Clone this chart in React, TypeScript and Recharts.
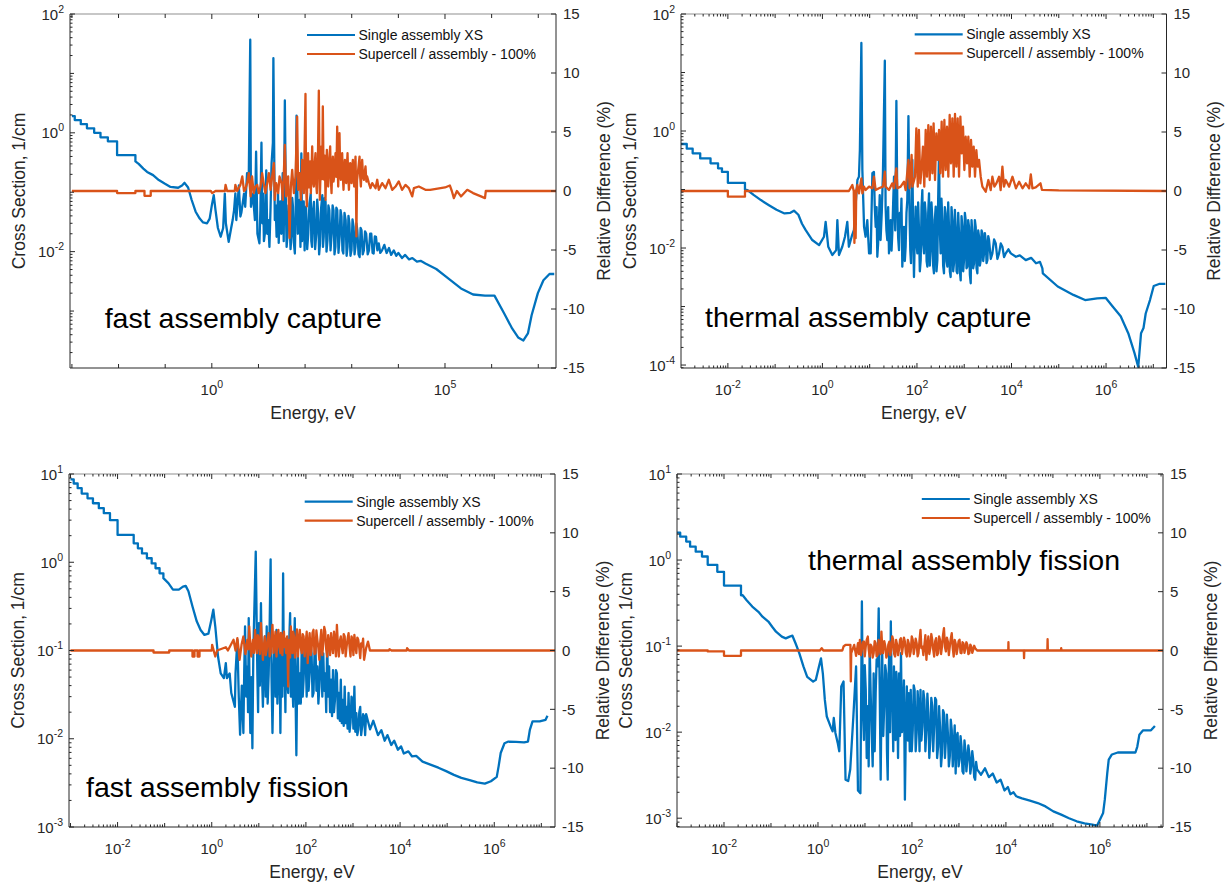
import { LineChart, Line, XAxis, YAxis, ReferenceLine } from 'recharts';

type Pt = [number, number]; // [energy eV, value]

// ---- fast assembly capture ----
const fastCaptureXS: Pt[] = [
  [1e-3, 1.91], [1.15e-3, 1.91], [1.15e-3, 1.64], [1.55e-3, 1.64], [1.55e-3, 1.4], [2.1e-3, 1.4], [2.1e-3, 1.19],
  [3e-3, 1.19], [3e-3, 1.0], [4.1e-3, 1.0], [4.1e-3, 0.84], [5.9e-3, 0.84], [5.9e-3, 0.72], [9.3e-3, 0.72],
  [9.3e-3, 0.42], [2.3e-2, 0.42], [2.3e-2, 0.33], [2.7e-2, 0.3], [3.4e-2, 0.25], [4.1e-2, 0.22], [5.5e-2, 0.194],
  [7.3e-2, 0.16], [9.7e-2, 0.14], [0.13, 0.123], [0.19, 0.119], [0.23, 0.13], [0.26, 0.144], [0.31, 0.12],
  [0.37, 0.074], [0.45, 0.047], [0.55, 0.036], [0.65, 0.031], [0.79, 0.03], [0.9, 0.036], [1.0, 0.06], [1.1, 0.089],
  [1.2, 0.05], [1.35, 0.025], [1.55, 0.0178], [1.75, 0.025], [1.9, 0.095], [2.0, 0.03], [2.3, 0.0146], [2.6, 0.025],
  [2.8, 0.034], [3.0, 0.05], [3.2, 0.096], [3.35, 0.034], [3.8, 0.13], [4.1, 0.039], [4.3, 0.045], [4.9, 0.095],
  [5.2, 0.057], [5.7, 0.21], [6.2, 0.18], [6.67, 37], [6.9, 0.057], [7.6, 0.095], [8.4, 0.034], [8.9, 0.48],
  [9.5, 0.02], [10.5, 0.0138], [11.0, 0.05], [11.6, 0.68], [12.1, 0.03], [12.6, 0.095], [13.1, 0.015], [13.7, 0.02],
  [14.2, 0.06], [14.7, 0.234], [15.4, 0.02], [16.2, 0.034], [17.2, 0.012], [18.2, 0.057], [19.1, 0.305],
  [20.4, 0.68], [20.9, 18], [22.4, 0.034], [23.4, 0.06], [24.5, 0.0178], [25.4, 0.04], [26.3, 0.095], [27.2, 0.014],
  [28.2, 0.034], [29.5, 0.07], [30.9, 0.02], [32, 0.045], [33.1, 0.21], [34.8, 0.015], [36.8, 3.5], [38.9, 0.044],
  [40.2, 0.012], [41.7, 0.0178], [44, 0.06], [46.4, 0.034], [48.8, 0.011], [51.3, 0.02], [53, 0.08], [55, 0.057],
  [57.5, 0.014], [60.3, 0.0093], [63, 0.05], [65.5, 1.94], [70, 0.02], [73, 0.05], [75.9, 0.074], [79.5, 0.012],
  [83.2, 0.45], [86, 0.015], [89.1, 0.026], [93.5, 0.07], [97.7, 0.0105], [101, 0.04], [105, 0.057], [111, 0.011],
  [117, 0.02], [124, 0.065], [132, 0.095], [136, 0.015], [141, 0.012], [148, 0.05], [155, 0.069], [164, 0.011],
  [174, 0.02], [182, 0.075], [191, 0.044], [200, 0.009], [209, 0.0138], [221, 0.055], [234, 0.089], [242, 0.012],
  [251, 0.0178], [263, 0.08], [275, 0.069], [288, 0.01], [302, 0.0155], [316, 0.06], [331, 0.05], [351, 0.0105],
  [372, 0.02], [389, 0.06], [407, 0.05], [427, 0.009], [447, 0.012], [468, 0.055], [490, 0.05], [520, 0.0095],
  [550, 0.0178], [576, 0.05], [603, 0.039], [632, 0.0105], [661, 0.0093], [700, 0.045], [741, 0.034], [777, 0.0085],
  [813, 0.012], [852, 0.04], [891, 0.03], [940, 0.0085], [989, 0.0105], [1040, 0.035], [1096, 0.026], [1150, 0.009],
  [1202, 0.012], [1260, 0.03], [1318, 0.023], [1400, 0.009], [1479, 0.0081], [1550, 0.025], [1622, 0.023],
  [1720, 0.009], [1820, 0.0105], [1930, 0.022], [2042, 0.02], [2200, 0.009], [2344, 0.0105], [2480, 0.02],
  [2630, 0.02], [2800, 0.0095], [2951, 0.0093], [3130, 0.018], [3311, 0.0178], [3550, 0.0105], [3802, 0.0138],
  [4100, 0.0095], [4467, 0.0105], [5000, 0.013], [5600, 0.0095], [6300, 0.0115], [7000, 0.0088], [8000, 0.0105],
  [9000, 0.0085], [1e4, 0.0095], [1.2e4, 0.0078], [1.4e4, 0.0088], [1.7e4, 0.0074], [2e4, 0.0078], [2.5e4, 0.0068],
  [3e4, 0.007], [3.8e4, 0.0063], [6.5e4, 0.0051], [1.05e5, 0.0038], [2.2e5, 0.0024], [4e5, 0.0019], [7.2e5, 0.00182],
  [1.15e6, 0.00182], [1.86e6, 0.00091], [2.75e6, 0.00051], [3.7e6, 0.00036], [4.8e6, 0.00032], [6e6, 0.00042],
  [7.2e6, 0.00085], [9.8e6, 0.002], [1.29e7, 0.0033], [1.74e7, 0.0042], [2.2e7, 0.0042],
];
const fastCaptureDiff: Pt[] = [
  [1e-3, 0], [9.3e-3, 0], [9.3e-3, -0.18], [2.3e-2, -0.18], [2.3e-2, 0], [3.6e-2, 0], [3.6e-2, -0.41], [4.9e-2, -0.41],
  [4.9e-2, 0], [0.95, 0], [1.02, -0.18], [1.2, 0], [1.9, 0], [1.97, 0.52], [2.13, 0], [3.1, 0], [3.2, 0.52], [3.5, 0],
  [4.1, 0.52], [4.5, 1.23], [4.9, 0], [5.2, 0.1], [5.7, 0.67], [6.2, 1.51], [6.8, -0.46], [7.3, 1.23], [7.9, -0.18],
  [8.6, 0.38], [9.4, 0.52], [10.2, -0.18], [11.1, 0.38], [12, 1.51], [13.1, 0.52], [14.1, -0.18], [15.4, 0.67],
  [16.7, 1.51], [18.2, 0.1], [19.7, 1.23], [21.4, 2.36], [22.4, -0.75], [24, 0.67], [26.5, -0.18], [28.3, 1.23],
  [31.3, 0.67], [33.4, -0.75], [36.8, 3.91], [39.3, -0.46], [43.4, 1.23], [46.4, -3.99], [49.5, 0.38], [52.9, 1.79],
  [57.5, -0.18], [62.3, 1.23], [67.6, 6.31], [71.1, 0.1], [75.9, 1.51], [81.3, -0.75], [86.5, 2.64], [94, -0.18],
  [102, 8.23], [105, 0.5], [109, -1.31], [112, 1.5], [116, 3.2], [120, 0.3], [124, 1.23], [128, 2.5], [133, -0.18],
  [137, 1.5], [142, 3.77], [148, 0.8], [154, 0.38], [160, 2.2], [167, 3.2], [173, 0.6], [179, -0.18], [188, 2.5],
  [197, 8.51], [207, -0.75], [216, 2.0], [225, 3.77], [232, 1.0], [240, 7.16], [248, 2.0], [257, 0.95], [265, 3.0],
  [274, -0.75], [283, 1.5], [293, 3.49], [303, 1.8], [313, 0.38], [329, 2.5], [345, 3.77], [357, 1.0], [369, -0.18],
  [381, 1.8], [394, 2.92], [407, 0.8], [421, 1.23], [435, 2.0], [449, 3.2], [468, 1.2], [488, 5.46], [500, 2.0],
  [513, 0.38], [530, 2.5], [547, 4.9], [566, 1.5], [585, 0.95], [604, 2.2], [624, 3.2], [645, 1.2], [667, 0.1],
  [690, 1.8], [713, 2.64], [736, 0.9], [760, 0.67], [786, 2.0], [813, 3.2], [842, 1.2], [871, 0.1], [899, 1.5],
  [927, 2.36], [958, 1.1], [989, 0.67], [1022, 2.0], [1057, 2.64], [1092, 1.2], [1128, 0.38], [1165, 1.8],
  [1205, 2.92], [1230, 1.0], [1260, -3.85], [1300, 0.9], [1350, 1.51], [1410, 2.2], [1470, 2.92], [1520, 1.2],
  [1570, 0.38], [1620, 1.6], [1675, 2.64], [1750, 1.2], [1820, 0.95], [1900, 1.6], [1975, 2.08], [2060, 0.8],
  [2140, 1.23], [2330, 0.67], [2520, 0.24], [2750, 0.67], [3240, 0.24], [3520, 0.95], [3810, 0.1], [4500, 0.67],
  [5300, 0.24], [6250, 0.95], [7380, 0.1], [8700, 0.38], [1.02e4, 0.81], [1.2e4, 0.1], [1.42e4, 0.52], [1.68e4, 0.24],
  [1.98e4, -0.46], [2.15e4, 0.24], [2.75e4, 0.38], [3.8e4, 0.1], [4.8e4, 0.1], [1e5, 0.3], [1.27e5, 0.47], [1.4e5, 0],
  [1.55e5, -0.6], [1.8e5, 0], [2.2e5, -0.46], [3e5, 0.1], [4e5, -0.18], [5.9e5, -0.46], [7.2e5, -0.6], [7.5e5, 0],
  [2.4e7, 0],
];

// ---- thermal assembly capture ----
const thermalCaptureXS: Pt[] = [
  [1e-3, 0.6], [1.35e-3, 0.6], [1.35e-3, 0.5], [1.8e-3, 0.5], [1.8e-3, 0.415], [2.6e-3, 0.415], [2.6e-3, 0.34],
  [4.3e-3, 0.34], [4.3e-3, 0.28], [6.2e-3, 0.28], [6.2e-3, 0.23], [7.5e-3, 0.23], [7.5e-3, 0.2], [1e-2, 0.2],
  [1e-2, 0.13], [2.3e-2, 0.13], [2.3e-2, 0.1], [2.6e-2, 0.098], [3.5e-2, 0.081], [5e-2, 0.066], [7.4e-2, 0.054],
  [0.107, 0.045], [0.158, 0.039], [0.21, 0.04], [0.25, 0.0435], [0.31, 0.037], [0.37, 0.026], [0.44, 0.0204],
  [0.61, 0.0137], [0.85, 0.0112], [1.08, 0.0156], [1.17, 0.028], [1.33, 0.0105], [1.62, 0.0076], [1.96, 0.0092],
  [2.07, 0.03], [2.24, 0.0076], [2.63, 0.0105], [3.0, 0.0156], [3.36, 0.028], [3.63, 0.0105], [4.15, 0.0156],
  [4.65, 0.0204], [5.0, 0.051], [5.5, 0.145], [5.93, 0.166], [6.2, 0.47], [6.67, 32], [7.0, 0.215], [7.6, 0.023],
  [8.2, 0.0156], [8.9, 0.03], [9.7, 0.0081], [10.5, 0.0081], [11.4, 0.19], [12.3, 0.2], [12.8, 0.05], [13.4, 0.023],
  [14.0, 0.05], [14.5, 0.0071], [15.1, 0.012], [15.7, 0.03], [16.3, 0.08], [17.0, 0.0137], [18.0, 0.04], [19.1, 0.2],
  [20.9, 15.9], [21.7, 0.051], [22.6, 0.02], [23.6, 0.0137], [24.6, 0.05], [25.6, 0.0081], [26.7, 0.015],
  [27.8, 0.03], [29, 0.009], [30.1, 0.0178], [31.4, 0.06], [32.7, 0.166], [34.7, 0.02], [36.7, 3.26], [38.5, 0.051],
  [40, 0.015], [41.7, 0.0092], [43.4, 0.04], [45.2, 0.023], [47, 0.07], [49, 0.0048], [51, 0.012], [53.2, 0.023],
  [55.4, 0.006], [57.6, 0.0105], [60, 0.04], [62.5, 0.066], [66, 1.8], [70, 0.03], [72.3, 0.009], [74.8, 0.0055],
  [77.4, 0.04], [80, 0.32], [83, 0.02], [86.5, 0.0032], [90, 0.015], [93.8, 0.051], [98, 0.012], [102, 0.0081],
  [106, 0.06], [110, 0.023], [115, 0.004], [120, 0.0062], [125, 0.05], [130, 0.098], [135, 0.012], [141, 0.0081],
  [147, 0.06], [153, 0.039], [160, 0.006], [166, 0.0048], [173, 0.04], [180, 0.086], [187, 0.005], [195, 0.0092],
  [203, 0.06], [212, 0.03], [220, 0.005], [229, 0.0037], [239, 0.03], [249, 0.051], [259, 0.004], [270, 0.0062],
  [281, 0.07], [293, 0.415], [305, 0.02], [317, 0.0081], [330, 0.07], [344, 0.03], [358, 0.005], [373, 0.0037],
  [389, 0.05], [405, 0.039], [422, 0.006], [440, 0.0048], [458, 0.06], [476, 0.023], [496, 0.004], [516, 0.0032],
  [538, 0.05], [561, 0.03], [584, 0.004], [608, 0.0055], [634, 0.045], [660, 0.023], [688, 0.004], [716, 0.0037],
  [746, 0.04], [777, 0.0178], [809, 0.004], [842, 0.0028], [877, 0.035], [913, 0.023], [950, 0.004], [990, 0.0062],
  [1031, 0.04], [1074, 0.03], [1118, 0.0045], [1165, 0.0048], [1213, 0.03], [1263, 0.023], [1316, 0.0035],
  [1371, 0.0025], [1428, 0.03], [1486, 0.0178], [1548, 0.0045], [1612, 0.0055], [1680, 0.03], [1749, 0.023],
  [1822, 0.0045], [1897, 0.0037], [1975, 0.02], [2057, 0.0156], [2143, 0.005], [2232, 0.0062], [2325, 0.02],
  [2420, 0.0178], [2520, 0.006], [2625, 0.0081], [2735, 0.018], [2848, 0.0137], [2966, 0.0055], [3089, 0.0062],
  [3220, 0.016], [3350, 0.0137], [3640, 0.0065], [3940, 0.0081], [4280, 0.014], [4640, 0.012], [5030, 0.0065],
  [5460, 0.0081], [5930, 0.012], [6420, 0.0105], [6960, 0.007], [7550, 0.0081], [8600, 0.0095], [9660, 0.0081],
  [1.24e4, 0.0071], [1.5e4, 0.0075], [2e4, 0.0062], [2.6e4, 0.0068], [3.3e4, 0.0055], [4e4, 0.0058],
  [4.5e4, 0.0045], [4.6e4, 0.0037], [9.5e4, 0.0022], [2.04e5, 0.00158], [3.6e5, 0.00129], [6.5e5, 0.00138],
  [9.8e5, 0.00141], [1.38e6, 0.001], [2.04e6, 0.00068], [2.95e6, 0.00035], [4e6, 0.00016], [4.8e6, 9.3e-5],
  [5.5e6, 0.00035], [6.2e6, 0.00043], [6.9e6, 0.00076], [8.5e6, 0.00129], [1.02e7, 0.00224], [1.32e7, 0.00243],
  [1.8e7, 0.00243],
];
const thermalCaptureDiff: Pt[] = [
  [1e-3, 0], [1e-2, 0], [1e-2, -0.48], [2.3e-2, -0.48], [2.3e-2, 0], [3.63, 0], [4.29, 0.51], [4.6, 0], [4.75, -4.4],
  [4.9, 0], [5.05, -4.0], [5.2, 0], [5.5, 0.51], [5.93, -0.2], [6.67, 1.07], [7.0, -0.2], [7.6, 0.37], [8.2, 0.08],
  [9.7, 0.37], [11.4, 0.23], [12.3, 1.21], [13.4, 0.08], [15.7, 0.23], [19.1, 0.37], [20.9, 1.64], [21.7, 0.37],
  [25.6, 0.08], [30.1, 0.65], [32.7, 0.23], [36.7, 1.92], [38.5, 0.23], [45.2, 0.37], [53.2, 0.79], [57.6, 0.08],
  [66, 2.63], [70, 0.23], [77, 3.05], [80, 0.37], [90.8, 1.21], [97, 5.31], [104, 0.37], [110, 5.17], [118, 0.65],
  [126, 2.06], [134, 3.76], [143, 0.37], [153, 5.17], [163, 1.21], [174, 5.59], [186, 0.93], [198, 5.45], [212, 1.5],
  [225, 5.73], [241, 0.93], [257, 4.89], [275, 2.63], [293, 5.17], [312, 1.5], [333, 5.88], [355, 1.21], [380, 6.02],
  [405, 1.78], [432, 5.45], [461, 1.21], [492, 6.44], [525, 2.34], [561, 6.16], [598, 1.21], [638, 6.53], [681, 2.06],
  [727, 6.16], [777, 1.21], [828, 6.3], [884, 3.19], [943, 5.45], [1006, 1.78], [1074, 4.6], [1145, 2.34],
  [1222, 4.6], [1304, 1.21], [1392, 4.32], [1486, 2.06], [1585, 3.76], [1690, 1.21], [1805, 3.47], [1925, 2.06],
  [2057, 2.63], [2232, 1.21], [2420, 0.37], [2848, -0.06], [3240, 0.93], [3630, 0.08], [3940, 1.21], [4340, 0.37],
  [4790, 0.65], [5460, 1.21], [5890, 0.08], [6420, 2.06], [6930, 0.37], [7550, 0.93], [8910, 0.37], [1.05e4, 1.21],
  [1.24e4, 0.23], [1.45e4, 0.79], [1.71e4, 0.23], [2e4, 0.65], [2.36e4, 0.23], [2.56e4, 1.4], [2.77e4, 0.23],
  [3.25e4, 0.3], [4.1e4, 0.65], [4.4e4, 0.1], [1e5, 0.05], [1.9e7, 0],
];

// ---- fast assembly fission ----
const fastFissionXS: Pt[] = [
  [1e-3, 8.7], [1.17e-3, 8.7], [1.17e-3, 7.8], [1.42e-3, 7.8], [1.42e-3, 6.9], [1.73e-3, 6.9], [1.73e-3, 6.0],
  [2.3e-3, 6.0], [2.3e-3, 5.3], [3e-3, 5.3], [3e-3, 4.66], [4e-3, 4.66], [4e-3, 4.1], [5.1e-3, 4.1], [5.1e-3, 3.6],
  [6.9e-3, 3.6], [6.9e-3, 3.0], [1e-2, 3.0], [1e-2, 2.04], [2.2e-2, 2.04], [2.2e-2, 1.64], [2.7e-2, 1.64],
  [2.7e-2, 1.44], [3.3e-2, 1.44], [3.3e-2, 1.26], [4.2e-2, 1.26], [4.2e-2, 1.11], [5.3e-2, 1.11], [5.3e-2, 0.97],
  [6.4e-2, 0.97], [6.4e-2, 0.855], [7.8e-2, 0.855], [7.8e-2, 0.75], [9.4e-2, 0.75], [9.4e-2, 0.66], [0.12, 0.58],
  [0.15, 0.49], [0.2, 0.49], [0.245, 0.53], [0.28, 0.54], [0.32, 0.47], [0.39, 0.315], [0.48, 0.214], [0.58, 0.171],
  [0.7, 0.15], [0.85, 0.155], [0.98, 0.222], [1.08, 0.29], [1.19, 0.187], [1.36, 0.0855], [1.55, 0.055],
  [1.81, 0.0486], [1.99, 0.072], [2.1, 0.0486], [2.4, 0.055], [2.6, 0.033], [3.1, 0.023], [3.2, 0.055], [3.5, 0.132],
  [3.75, 0.03], [4.0, 0.0111], [4.35, 0.04], [4.7, 0.0116], [4.9, 0.06], [5.1, 0.187], [5.4, 0.03], [5.7, 0.066],
  [5.9, 0.02], [6.1, 0.232], [6.35, 0.04], [6.6, 0.0116], [6.95, 0.05], [7.3, 0.0078], [7.65, 0.1], [8.0, 0.265],
  [8.6, 1.32], [9.3, 0.055], [9.65, 0.02], [10, 0.204], [10.5, 0.04], [11.1, 0.343], [11.6, 0.06], [12.2, 0.023],
  [12.8, 0.07], [13.4, 0.144], [14.0, 0.03], [14.7, 0.187], [15.4, 0.025], [16.2, 0.055], [17.0, 0.2], [17.8, 1.08],
  [18.6, 0.05], [19.5, 0.0116], [20.5, 0.06], [21.6, 0.132], [22.6, 0.03], [23.7, 0.171], [24.8, 0.025], [26, 0.06],
  [27.3, 0.15], [28.7, 0.0116], [29.5, 0.05], [30.4, 0.111], [31.6, 0.03], [32.8, 0.75], [34.1, 0.04], [35.5, 0.055],
  [36.7, 0.02], [38, 0.132], [40, 0.05], [42, 0.033], [44, 0.12], [46.2, 0.265], [48, 0.03], [49.9, 0.111],
  [51.8, 0.04], [53.7, 0.023], [55.8, 0.1], [58, 0.232], [60.3, 0.03], [62.7, 0.0065], [65, 0.04], [67.6, 0.093],
  [70.8, 0.025], [74.2, 0.055], [78, 0.025], [81.8, 0.132], [85.5, 0.03], [89.3, 0.0466], [94, 0.11], [99, 0.078],
  [104, 0.03], [109, 0.132], [114, 0.035], [120, 0.055], [126, 0.11], [132, 0.093], [138, 0.03], [145, 0.033],
  [152, 0.09], [160, 0.111], [167, 0.035], [175, 0.066], [184, 0.025], [193, 0.039], [202, 0.1], [212, 0.078],
  [223, 0.03], [234, 0.093], [245, 0.035], [257, 0.055], [270, 0.02], [283, 0.132], [297, 0.03], [311, 0.066],
  [326, 0.02], [342, 0.0466], [359, 0.018], [376, 0.06], [395, 0.02], [414, 0.0276], [434, 0.06], [455, 0.055],
  [477, 0.017], [500, 0.033], [525, 0.016], [551, 0.0466], [578, 0.015], [605, 0.0276], [635, 0.014], [666, 0.039],
  [698, 0.015], [732, 0.023], [768, 0.013], [805, 0.033], [845, 0.012], [885, 0.0151], [930, 0.03], [973, 0.0276],
  [1020, 0.013], [1070, 0.039], [1120, 0.012], [1177, 0.0195], [1235, 0.011], [1294, 0.0126], [1360, 0.02],
  [1423, 0.023], [1490, 0.011], [1565, 0.0138], [1640, 0.019], [1721, 0.0178], [1810, 0.011], [1900, 0.019],
  [2300, 0.0128], [2700, 0.016], [3400, 0.011], [4000, 0.0125], [4700, 0.0095], [5400, 0.011], [6500, 0.0085],
  [7500, 0.0095], [9000, 0.0075], [1.05e4, 0.0082], [1.2e4, 0.0068], [1.5e4, 0.0072], [1.8e4, 0.0063],
  [2.2e4, 0.0064], [3e4, 0.0055], [4.4e4, 0.0051], [6.5e4, 0.0047], [9.5e4, 0.0043], [1.39e5, 0.0039],
  [2e5, 0.0036], [3e5, 0.0034], [4.35e5, 0.0032], [6.3e5, 0.0031], [8.5e5, 0.0033], [1.13e6, 0.0037],
  [1.24e6, 0.0049], [1.37e6, 0.0069], [1.65e6, 0.0089], [2e6, 0.0093], [2.9e6, 0.0092], [4.3e6, 0.0091],
  [5.2e6, 0.0093], [5.7e6, 0.0126], [6.5e6, 0.0157], [9.2e6, 0.0157], [1.23e7, 0.0164], [1.35e7, 0.0182],
];
const fastFissionDiff: Pt[] = [
  [1e-3, 0], [5.8e-2, 0], [5.8e-2, -0.17], [0.125, -0.17], [0.125, 0], [0.39, 0], [0.39, -0.51], [0.43, -0.51],
  [0.43, 0], [0.5, 0], [0.5, -0.51], [0.55, -0.51], [0.55, 0], [1.0, 0], [1.02, 0.48], [1.19, -0.51], [1.3, 0],
  [1.99, 0.28], [2.2, 0], [2.9, 0.91], [3.2, 0], [3.5, 1.05], [3.7, 0.2], [3.9, -0.79], [4.3, 0.5], [4.7, 1.19],
  [5.2, -0.3], [5.7, 0.91], [6.0, 0.1], [6.25, 2.04], [6.6, 0.4], [6.9, -0.51], [7.2, 0.3], [7.5, 0.91], [7.9, -0.2],
  [8.3, 1.76], [8.7, 0.5], [9.1, -0.23], [9.5, 1.3], [10, 0.91], [10.5, -0.3], [11.1, 2.32], [11.6, 0.6],
  [12.2, -0.79], [12.8, 0.4], [13.4, 1.19], [14.0, -0.4], [14.7, 0.06], [15.4, 1.0], [16.2, 1.47], [17.0, -0.5],
  [17.8, -0.23], [18.6, 1.2], [19.5, 2.18], [20.5, -0.2], [21.6, 0.62], [22.6, 1.6], [23.7, -0.51], [24.8, 0.8],
  [26, 1.76], [27.3, 0.3], [28.7, -0.23], [29.5, 1.5], [30.4, 1.19], [31.6, -0.4], [32.8, 0.91], [34.1, 1.6],
  [35.5, 0.28], [36.7, 1.0], [38, -0.23], [40, 1.2], [42, -3.06], [43.2, 0.3], [44.5, 0.91], [46.2, -0.6],
  [47.9, 2.04], [49.8, 0.5], [51.8, -0.23], [53.8, 1.6], [55.9, 1.19], [58.6, -0.6], [61.5, 0.62], [64.5, 1.8],
  [67.6, -0.51], [70.8, 0.8], [74.2, 1.76], [78, 0.2], [81.8, -0.23], [85.5, 1.4], [89.3, 1.19], [94, -0.5],
  [99, 0.62], [104, 1.6], [109, -1.08], [114, 0.5], [120, 1.47], [126, -0.4], [132, 0.06], [138, 1.5], [145, 1.76],
  [152, -0.3], [160, -0.23], [167, 1.7], [175, 0.91], [184, 0.2], [193, -0.79], [202, 0.8], [212, 1.76],
  [223, -0.4], [234, 0.62], [245, 2.0], [257, 1.61], [270, 0.1], [283, -0.51], [297, 1.3], [311, 0.62], [326, -0.4],
  [342, 1.47], [359, 0.5], [376, -0.23], [395, 1.6], [414, 0.91], [434, -0.5], [455, 2.18], [477, 0.6], [500, -0.51],
  [525, 0.8], [551, 1.19], [578, 0.3], [605, -0.23], [635, 1.4], [666, 1.19], [698, -0.5], [732, 0.34], [768, 1.0],
  [805, 1.47], [845, 0.3], [885, -0.51], [930, 1.2], [973, 0.91], [1020, -0.4], [1070, 1.33], [1120, 0.5],
  [1177, -0.23], [1235, 1.1], [1294, 0.91], [1360, 0.2], [1423, -0.65], [1490, 0.6], [1565, 0.34], [1640, 1.0],
  [1721, -0.79], [1900, 0.2], [2081, 0.76], [2290, 0], [5800, 0], [5960, 0.11], [6566, 0], [1.38e4, 0],
  [1.41e4, 0.2], [1.55e4, 0], [1.95e7, 0],
];

// ---- thermal assembly fission ----
const thermalFissionXS: Pt[] = [
  [1e-3, 2.08], [1.17e-3, 2.08], [1.17e-3, 1.87], [1.57e-3, 1.87], [1.57e-3, 1.64], [1.9e-3, 1.64], [1.9e-3, 1.43],
  [2.5e-3, 1.43], [2.5e-3, 1.25], [3.4e-3, 1.25], [3.4e-3, 1.1], [4.5e-3, 1.1], [4.5e-3, 0.88], [7.2e-3, 0.88],
  [7.2e-3, 0.73], [1e-2, 0.73], [1e-2, 0.505], [2.3e-2, 0.505], [2.3e-2, 0.39], [2.5e-2, 0.39], [3e-2, 0.344],
  [4e-2, 0.288], [5.4e-2, 0.25], [6.6e-2, 0.22], [8.8e-2, 0.193], [0.106, 0.168], [0.128, 0.147], [0.17, 0.129],
  [0.206, 0.123], [0.25, 0.129], [0.286, 0.132], [0.333, 0.108], [0.4, 0.083], [0.49, 0.058], [0.59, 0.044],
  [0.79, 0.0387], [0.9, 0.0405], [1.05, 0.058], [1.16, 0.072], [1.27, 0.048], [1.4, 0.0237], [1.54, 0.0152],
  [1.86, 0.0116], [2.05, 0.0102], [2.17, 0.0146], [2.35, 0.0098], [2.63, 0.0075], [2.84, 0.006], [3.13, 0.034],
  [3.5, 0.0387], [3.86, 0.0028], [4.4, 0.0027], [4.86, 0.0037], [5.66, 0.0152], [6.47, 0.058], [7.1, 0.0021],
  [8.0, 0.00195], [8.6, 0.33], [9.0, 0.02], [9.5, 0.0081], [9.9, 0.06], [10.4, 0.031], [10.9, 0.005], [11.5, 0.02],
  [12.0, 0.004], [12.6, 0.099], [13.2, 0.03], [13.9, 0.0098], [14.6, 0.004], [15.3, 0.048], [16.1, 0.006],
  [16.9, 0.0284], [17.7, 0.07], [18.6, 0.058], [19.6, 0.275], [20.6, 0.03], [21.6, 0.0028], [22.4, 0.02],
  [23.3, 0.083], [24.5, 0.009], [25.7, 0.02], [27, 0.06], [28.3, 0.048], [29.4, 0.006], [30.5, 0.0028], [31.8, 0.04],
  [33, 0.099], [34.2, 0.01], [35.5, 0.193], [37, 0.03], [38.4, 0.02], [40, 0.006], [41.4, 0.058], [43, 0.012],
  [44.7, 0.0081], [46.5, 0.05], [48.3, 0.0284], [50.6, 0.005], [53, 0.048], [55.7, 0.009], [58.4, 0.083],
  [61.3, 0.01], [64.3, 0.0166], [67.5, 0.04], [70.8, 0.00164], [74.2, 0.012], [77.8, 0.034], [81.6, 0.008],
  [85.6, 0.0284], [89.8, 0.006], [94.2, 0.031], [99, 0.006], [104, 0.0106], [109, 0.035], [114, 0.031], [120, 0.006],
  [126, 0.0098], [132, 0.03], [138, 0.02], [145, 0.006], [152, 0.031], [159, 0.008], [167, 0.0118], [175, 0.03],
  [184, 0.0237], [193, 0.006], [203, 0.0106], [213, 0.028], [223, 0.0166], [234, 0.005], [246, 0.0081], [258, 0.025],
  [270, 0.02], [283, 0.006], [297, 0.0116], [312, 0.025], [327, 0.0237], [343, 0.005], [360, 0.0068], [378, 0.02],
  [396, 0.0116], [416, 0.004], [436, 0.0057], [458, 0.018], [480, 0.0166], [504, 0.005], [528, 0.0081], [554, 0.016],
  [581, 0.0098], [610, 0.004], [639, 0.0052], [670, 0.014], [703, 0.0106], [738, 0.004], [774, 0.0068], [812, 0.012],
  [851, 0.0033], [893, 0.009], [937, 0.0098], [983, 0.004], [1031, 0.0048], [1082, 0.009], [1134, 0.0068],
  [1190, 0.0035], [1248, 0.0033], [1310, 0.008], [1373, 0.0062], [1440, 0.0035], [1511, 0.0048], [1585, 0.007],
  [1662, 0.0057], [1745, 0.0033], [1829, 0.004], [1920, 0.006], [2013, 0.0048], [2110, 0.003], [2215, 0.0028],
  [2320, 0.0045], [2437, 0.0037], [2950, 0.0032], [3580, 0.0038], [4330, 0.003], [5240, 0.0033], [6350, 0.0026],
  [7690, 0.0028], [9300, 0.0021], [1.1e4, 0.0023], [1.24e4, 0.0019], [1.45e4, 0.002], [1.65e4, 0.0018],
  [2.2e4, 0.0017], [3.24e4, 0.0016], [4.75e4, 0.0015], [6.95e4, 0.00137], [1.02e5, 0.0012], [1.5e5, 0.0011],
  [2.2e5, 0.001], [3.2e5, 0.00092], [4.7e5, 0.00087], [6.9e5, 0.00084], [8.7e5, 0.00082], [1e6, 0.00096],
  [1.17e6, 0.00115], [1.27e6, 0.00164], [1.43e6, 0.0033], [1.54e6, 0.0048], [1.8e6, 0.0055], [2.4e6, 0.0058],
  [3.9e6, 0.0058], [5.7e6, 0.0058], [6.25e6, 0.0068], [6.9e6, 0.0093], [8.3e6, 0.0105], [1.22e7, 0.0105],
  [1.48e7, 0.0118],
];
const thermalFissionDiff: Pt[] = [
  [1e-3, 0], [4.5e-3, 0], [4.5e-3, -0.08], [1e-2, -0.08], [1e-2, -0.45], [2.3e-2, -0.45], [2.3e-2, 0], [1.1, 0],
  [1.2, 0.2], [1.3, 0], [3.3, 0], [3.5, 0.34], [3.86, 0.48], [4.9, 0.48], [5.0, -2.63], [5.1, -0.23], [5.9, 0.48],
  [6.47, -0.45], [7.1, 0.62], [7.45, -0.3], [7.8, 0.91], [8.2, -0.4], [8.6, 0.06], [9.0, 0.7], [9.5, 0.76],
  [9.9, -0.5], [10.4, 0.34], [10.9, 0.9], [11.5, 1.19], [12.0, 0.1], [12.6, -0.51], [13.2, 0.5], [13.9, 0.34],
  [14.6, -0.6], [15.3, -0.23], [16.1, 0.8], [16.9, 0.62], [17.7, -0.5], [18.6, -0.37], [19.5, 0.9], [20.4, 0.2],
  [21.4, -0.3], [22.4, 1.61], [23.3, 0.3], [24.2, -0.23], [25.7, 0.8], [27.2, 0.34], [28.5, -0.6], [29.9, -0.37],
  [31.4, 0.5], [33, 0.76], [34.6, -0.4], [36.3, 0.06], [38.1, 1.2], [39.9, 0.91], [41.9, -0.3], [43.9, -0.51],
  [46, 0.9], [48.3, 0.48], [50.6, -0.4], [53, 0.06], [55.7, 0.9], [58.4, 1.05], [61.3, -0.3], [64.3, 0.34],
  [67.5, 1.1], [70.8, 0.76], [74.2, -0.2], [77.8, -0.51], [81.6, 0.9], [85.6, 0.62], [89.8, -0.5], [94.2, -0.08],
  [99, 1.2], [104, 0.91], [109, -0.3], [114, 0.2], [120, 1.0], [126, 0.62], [132, -0.5], [138, -0.23], [145, 0.9],
  [152, 1.76], [159, 0.2], [167, 0.34], [175, -0.4], [184, 0.48], [193, 1.3], [203, -0.79], [213, 0.4], [223, 1.19],
  [234, -0.3], [246, 0.2], [258, 1.4], [270, 0.91], [283, 0.1], [297, -0.51], [312, 0.8], [327, 1.05], [343, -0.4],
  [360, -0.23], [378, 1.2], [396, 0.91], [416, -0.3], [436, 0.34], [458, 1.3], [480, 1.9], [504, 0.3], [528, -0.08],
  [554, 1.1], [581, 0.76], [610, -0.4], [639, 0.34], [670, 1.0], [703, 1.47], [738, 0.2], [774, -0.51], [812, 0.9],
  [851, 0.62], [893, -0.3], [937, 0.2], [983, 0.8], [1031, 0.91], [1082, -0.2], [1134, -0.23], [1190, 0.7],
  [1248, 0.62], [1310, -0.2], [1373, 0.2], [1440, 0.7], [1511, 0.48], [1585, -0.3], [1662, -0.23], [1745, 0.5],
  [1829, 0.34], [1920, -0.2], [2013, 0.06], [2110, 0.4], [2215, 0.2], [2437, 0], [1.12e4, 0], [1.13e4, 0.7],
  [1.14e4, 0], [2.4e4, 0], [2.43e4, -0.65], [2.46e4, 0], [7.6e4, 0], [7.7e4, 0.96], [7.8e4, 0], [1.48e5, 0],
  [1.5e5, 0.2], [1.52e5, 0], [2.2e7, 0],
];

const diffTicks = [-15, -10, -5, 0, 5, 10, 15];
const seriesNames = ['Single assembly XS', 'Supercell / assembly - 100%'];

const BLUE = '#0072BD';
const ORANGE = '#D95319';
const INK = '#262626';
const FONT = '"Liberation Sans", Arial, Helvetica, sans-serif';

// room around each plot box inside its own chart
const L = 72;
const R = 64;
const T = 22;
const B = 62;

type Panel = {
  id: string;
  note: string;
  noteAt: [number, number];
  legendAt: [number, number];
  xs: Pt[];
  diff: Pt[];
  box: { left: number; top: number; w: number; h: number };
  xDomain: [number, number];
  xMinor: boolean;
  xLabels: number[];
  yDomain: [number, number];
  yLabels: number[];
};

const panels: Panel[] = [
  {
    id: 'fc', note: 'fast assembly capture', noteAt: [104.7, 328], legendAt: [307, 35],
    xs: fastCaptureXS, diff: fastCaptureDiff,
    box: { left: 69.5, top: 14, w: 486, h: 354 },
    xDomain: [9.1e-4, 2.4e7], xMinor: false, xLabels: [0, 5],
    yDomain: [1.1e-4, 100], yLabels: [-2, 0, 2],
  },
  {
    id: 'tc', note: 'thermal assembly capture', noteAt: [705, 327], legendAt: [914.7, 34.3],
    xs: thermalCaptureXS, diff: thermalCaptureDiff,
    box: { left: 680.5, top: 14, w: 485.5, h: 354 },
    xDomain: [1.02e-3, 1.9e7], xMinor: true, xLabels: [-2, 0, 2, 4, 6],
    yDomain: [8.9e-5, 100], yLabels: [-4, -2, 0, 2],
  },
  {
    id: 'ff', note: 'fast assembly fission', noteAt: [86, 797], legendAt: [304.7, 501.7],
    xs: fastFissionXS, diff: fastFissionDiff,
    box: { left: 68.5, top: 474, w: 486, h: 353 },
    xDomain: [9.3e-4, 1.95e7], xMinor: true, xLabels: [-2, 0, 2, 4, 6],
    yDomain: [1e-3, 10], yLabels: [-3, -2, -1, 0, 1],
  },
  {
    id: 'tf', note: 'thermal assembly fission', noteAt: [808, 570], legendAt: [921.8, 499],
    xs: thermalFissionXS, diff: thermalFissionDiff,
    box: { left: 677, top: 474, w: 486, h: 353 },
    xDomain: [1e-3, 2.2e7], xMinor: true, xLabels: [-2, 0, 2, 4, 6],
    yDomain: [7.9e-4, 10], yLabels: [-3, -2, -1, 0, 1],
  },
];

function logTicks(lo: number, hi: number, minor: boolean) {
  const out: number[] = [];
  const mults = minor ? [1, 2, 3, 4, 5, 6, 7, 8, 9] : [1];
  for (let p = Math.floor(Math.log10(lo)); p <= Math.ceil(Math.log10(hi)); p++) {
    for (const m of mults) {
      const v = m * Math.pow(10, p);
      if (v >= lo * 0.9999 && v <= hi * 1.0001) out.push(v);
    }
  }
  return out;
}

function decadeOf(v: number) {
  const lg = Math.log10(v);
  const p = Math.round(lg);
  return { p, decade: Math.abs(lg - p) < 1e-6 };
}

function Pow10({ x, y, exp, anchor }: { x: number; y: number; exp: number; anchor: 'start' | 'middle' | 'end' }) {
  return (
    <text x={x} y={y} textAnchor={anchor} fontFamily={FONT} fontSize={15} fill={INK}>
      <tspan>10</tspan>
      <tspan dy={-7} fontSize={10.5}>{exp}</tspan>
    </text>
  );
}

function XTick({ x, y, payload, labels, plotH }: any) {
  const { p, decade } = decadeOf(payload.value);
  const named = decade && labels.includes(p);
  const len = named ? 5 : decade ? 4 : 2.5;
  const top = y - plotH;
  return (
    <g>
      <line x1={x} x2={x} y1={y} y2={y - len} stroke={INK} />
      <line x1={x} x2={x} y1={top} y2={top + len} stroke={INK} />
      {named && <Pow10 x={x} y={y + 27} exp={p} anchor="middle" />}
    </g>
  );
}

function YTick({ x, y, payload, labels }: any) {
  const { p, decade } = decadeOf(payload.value);
  const named = decade && labels.includes(p);
  const len = named ? 5 : decade ? 4 : 2.5;
  return (
    <g>
      <line x1={x} x2={x + len} y1={y} y2={y} stroke={INK} />
      {named && <Pow10 x={x - 6} y={y + 5.5} exp={p} anchor="end" />}
    </g>
  );
}

function RightTick({ x, y, payload }: any) {
  return (
    <g>
      <line x1={x} x2={x - 5} y1={y} y2={y} stroke={INK} />
      <text x={x + 7} y={y + 5.3} fontFamily={FONT} fontSize={15} fill={INK}>
        {payload.value}
      </text>
    </g>
  );
}

function PanelChart({ p }: { p: Panel }) {
  const W = L + p.box.w + R;
  const H = T + p.box.h + B;
  const xTicks = logTicks(p.xDomain[0], p.xDomain[1], p.xMinor);
  const yTicks = logTicks(p.yDomain[0], p.yDomain[1], true);
  const xsRows = p.xs.map(([e, v]) => ({ e, v }));
  const diffRows = p.diff.map(([e, v]) => ({ e, v }));
  const midY = T + p.box.h / 2;
  const leftX = L - 51;
  const rightX = L + p.box.w + 47.5;
  const titleStyle = { fontFamily: FONT, fontSize: 17.5, fill: INK };

  return (
    <div style={{ position: 'absolute', left: p.box.left - L, top: p.box.top - T }}>
      <LineChart width={W} height={H} margin={{ top: T, right: 0, bottom: 0, left: 0 }}>
        <XAxis
          dataKey="e"
          type="number"
          scale="log"
          domain={p.xDomain}
          allowDataOverflow
          ticks={xTicks}
          interval={0}
          height={B}
          tickSize={0}
          tickMargin={0}
          tickLine={false}
          axisLine={{ stroke: INK }}
          tick={(t: any) => <XTick {...t} labels={p.xLabels} plotH={p.box.h} />}
          label={{
            content: () => (
              <text x={L + p.box.w / 2} y={T + p.box.h + 45} textAnchor="middle" dominantBaseline="central" {...titleStyle}>
                Energy, eV
              </text>
            ),
          }}
        />
        <YAxis
          yAxisId="xs"
          type="number"
          scale="log"
          domain={p.yDomain}
          allowDataOverflow
          ticks={yTicks}
          interval={0}
          width={L}
          tickSize={0}
          tickMargin={0}
          tickLine={false}
          axisLine={{ stroke: INK }}
          tick={(t: any) => <YTick {...t} labels={p.yLabels} />}
          label={{
            content: () => (
              <text x={leftX} y={midY} transform={`rotate(-90 ${leftX} ${midY})`} textAnchor="middle" dominantBaseline="central" {...titleStyle}>
                Cross Section, 1/cm
              </text>
            ),
          }}
        />
        <YAxis
          yAxisId="rd"
          orientation="right"
          type="number"
          domain={[-15, 15]}
          allowDataOverflow
          ticks={diffTicks}
          interval={0}
          width={R}
          tickSize={0}
          tickMargin={0}
          tickLine={false}
          axisLine={{ stroke: INK }}
          tick={(t: any) => <RightTick {...t} />}
          label={{
            content: () => (
              <text x={rightX} y={midY} transform={`rotate(-90 ${rightX} ${midY})`} textAnchor="middle" dominantBaseline="central" {...titleStyle}>
                Relative Difference (%)
              </text>
            ),
          }}
        />
        <ReferenceLine yAxisId="rd" y={15} stroke="#8f8f8f" strokeWidth={1} />
        <Line
          yAxisId="xs"
          data={xsRows}
          dataKey="v"
          name={seriesNames[0]}
          type="linear"
          stroke={BLUE}
          strokeWidth={2.3}
          strokeLinejoin="round"
          dot={false}
          activeDot={false}
          isAnimationActive={false}
        />
        <Line
          yAxisId="rd"
          data={diffRows}
          dataKey="v"
          name={seriesNames[1]}
          type="linear"
          stroke={ORANGE}
          strokeWidth={2.3}
          strokeLinejoin="round"
          dot={false}
          activeDot={false}
          isAnimationActive={false}
        />
      </LineChart>
    </div>
  );
}

export default function App() {
  return (
    <div style={{ position: 'absolute', left: 0, top: 0, width: 1225, height: 883, background: '#fff', overflow: 'hidden' }}>
      {panels.map((p) => (
        <PanelChart key={p.id} p={p} />
      ))}
      <svg width={1225} height={883} style={{ position: 'absolute', left: 0, top: 0, pointerEvents: 'none' }}>
        {panels.map((p) => (
          <g key={p.id}>
            {[BLUE, ORANGE].map((c, i) => {
              const y = p.legendAt[1] + i * 19;
              return (
                <g key={c}>
                  <line x1={p.legendAt[0]} x2={p.legendAt[0] + 48} y1={y} y2={y} stroke={c} strokeWidth={2.2} />
                  <text x={p.legendAt[0] + 51.5} y={y} dominantBaseline="central" fontFamily={FONT} fontSize={14} fill="#111">
                    {seriesNames[i]}
                  </text>
                </g>
              );
            })}
            <text x={p.noteAt[0]} y={p.noteAt[1]} fontFamily={FONT} fontSize={28.5} fill="#000">
              {p.note}
            </text>
          </g>
        ))}
      </svg>
    </div>
  );
}
